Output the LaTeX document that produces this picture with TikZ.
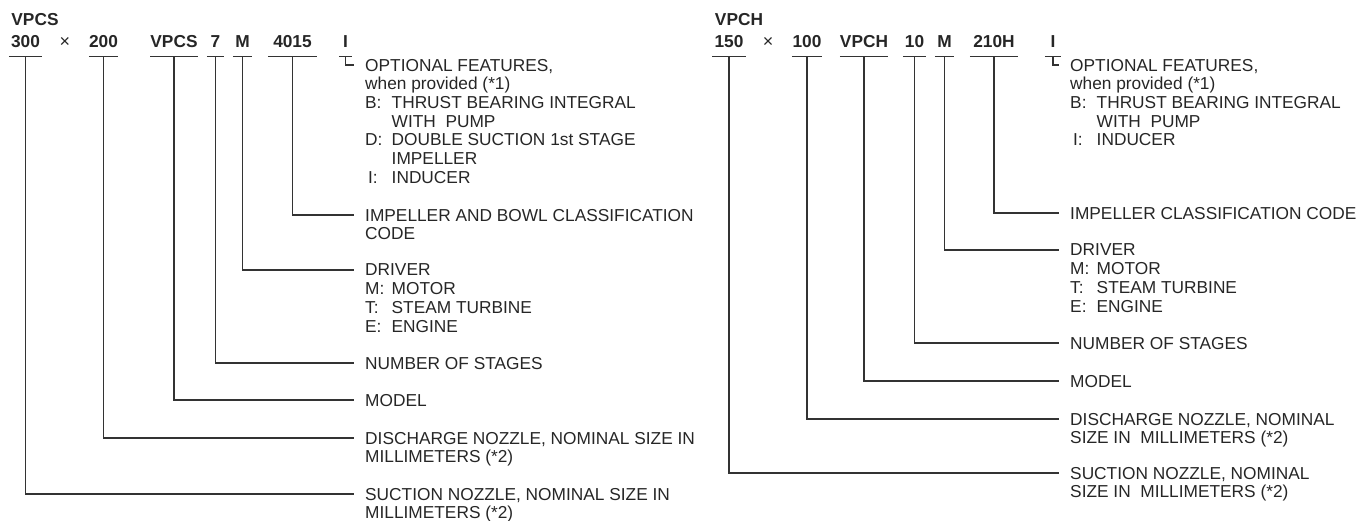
\documentclass[tikz,border=0pt]{standalone}
\usepackage{fontspec}
\setmainfont{Liberation Sans}
\usepackage{tikz}
\usetikzlibrary{positioning}

\tikzset{
  code/.style={font=\bfseries\fontsize{17.3}{19}\selectfont, anchor=base,
    inner xsep=0pt, inner ysep=0pt, text height=12pt, text depth=9pt},
  times/.style={font=\fontsize{18}{19}\selectfont, anchor=base},
  desc/.style={font=\fontsize{17.3}{18.7}\selectfont, anchor=north west,
    align=left, inner xsep=11pt, inner ysep=0pt},
  lead/.style={line width=1.3pt, black!80},
}
\newcommand{\lbltab}[1]{\makebox[26.5pt][l]{#1}}

\begin{document}
\begin{tikzpicture}[x=1pt,y=-1pt, every node/.append style={text=black!85}]
  \useasboundingbox (0,0) rectangle (1363,520);

  % left type code
  \node[code] (lhead) at (35,25) {VPCS};
  \node[code, minimum width=33pt] (ls) at (25.5,47) {300};
  \node[times] (lx) at (65,47) {×};
  \node[code, minimum width=29pt] (ld) at (103.5,47) {200};
  \node[code, minimum width=46pt] (lm) at (174,47) {VPCS};
  \node[code, minimum width=17pt] (ln) at (215.5,47) {7};
  \node[code, minimum width=19pt] (lv) at (242.5,47) {M};
  \node[code, minimum width=49pt] (lc) at (292.5,47) {4015};
  \node[code, minimum width=13pt] (lo) at (345.5,47) {I};

  \node[desc] (lopt) at (354,58.8) {OPTIONAL FEATURES,\\
    when provided (*1)\\
    \lbltab{B:}THRUST BEARING INTEGRAL\\
    \lbltab{}WITH\ \ PUMP\\
    \lbltab{D:}DOUBLE SUCTION 1st STAGE\\
    \lbltab{}IMPELLER\\
    \lbltab{\,I:}INDUCER};
  \node[desc] (limp) at (354,208.8) {IMPELLER AND BOWL CLASSIFICATION\\CODE};
  \node[desc] (ldrv) at (354,263.8) {DRIVER\\
    \lbltab{M:}MOTOR\\
    \lbltab{T:}STEAM TURBINE\\
    \lbltab{E:}ENGINE};
  \node[desc] (lnum) at (354,356.8) {NUMBER OF STAGES};
  \node[desc] (lmod) at (354,393.8) {MODEL};
  \node[desc] (ldis) at (354,431.8) {DISCHARGE NOZZLE, NOMINAL SIZE IN\\MILLIMETERS (*2)};
  \node[desc] (lsuc) at (354,487.8) {SUCTION NOZZLE, NOMINAL SIZE IN\\MILLIMETERS (*2)};

  % right type code
  \node[code] (rhead) at (739,25) {VPCH};
  \node[code, minimum width=33pt] (rs) at (729,47) {150};
  \node[times] (rx) at (768,47) {×};
  \node[code, minimum width=30pt] (rd) at (807,47) {100};
  \node[code, minimum width=44pt] (rm) at (864,47) {VPCH};
  \node[code, minimum width=23pt] (rn) at (914.5,47) {10};
  \node[code, minimum width=19pt] (rv) at (944.5,47) {M};
  \node[code, minimum width=48pt] (rc) at (994,47) {210H};
  \node[code, minimum width=16pt] (ro) at (1053,47) {I};

  \node[desc] (ropt) at (1059,58.8) {OPTIONAL FEATURES,\\
    when provided (*1)\\
    \lbltab{B:}THRUST BEARING INTEGRAL\\
    \lbltab{}WITH\ \ PUMP\\
    \lbltab{\,I:}INDUCER};
  \node[desc] (rimp) at (1059,206.8) {IMPELLER CLASSIFICATION CODE};
  \node[desc] (rdrv) at (1059,243.8) {DRIVER\\
    \lbltab{M:}MOTOR\\
    \lbltab{T:}STEAM TURBINE\\
    \lbltab{E:}ENGINE};
  \node[desc] (rnum) at (1059,336.8) {NUMBER OF STAGES};
  \node[desc] (rmod) at (1059,374.8) {MODEL};
  \node[desc] (rdis) at (1059,412.8) {DISCHARGE NOZZLE, NOMINAL\\SIZE IN\ \ MILLIMETERS (*2)};
  \node[desc] (rsuc) at (1059,466.8) {SUCTION NOZZLE, NOMINAL\\SIZE IN\ \ MILLIMETERS (*2)};

  % underlines and leaders
  \foreach \c in {ls,ld,lm,ln,lv,lc,lo,rs,rd,rm,rn,rv,rc,ro}
    \draw[lead] (\c.south west) -- (\c.south east);
  \foreach \c/\l in {ls/lsuc,ld/ldis,lm/lmod,ln/lnum,lv/ldrv,lc/limp,lo/lopt,
                     rs/rsuc,rd/rdis,rm/rmod,rn/rnum,rv/rdrv,rc/rimp,ro/ropt}
    \draw[lead] (\c.south) |- ([yshift=-6.2pt]\l.north west);
\end{tikzpicture}
\end{document}
